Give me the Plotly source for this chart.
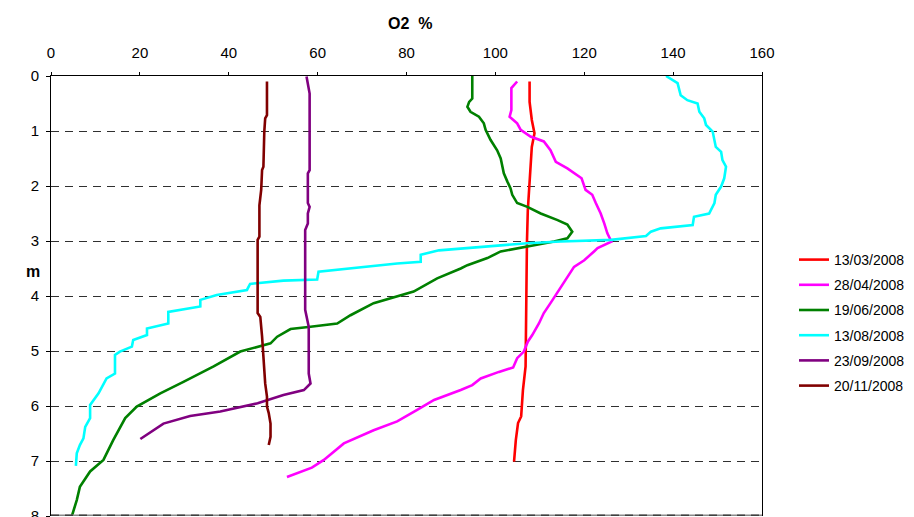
import plotly.graph_objects as go

# ---- data ----
names = ["13/03/2008", "28/04/2008", "19/06/2008", "13/08/2008", "23/09/2008", "20/11/2008"]
colors = ["#FF0000", "#FF00FF", "#008000", "#00FFFF", "#800080", "#800000"]

d_mar = [0.10, 0.47, 0.80, 1.04, 1.29, 1.71, 2.00, 2.44, 3.04, 3.70, 4.74, 5.28, 5.71, 6.19, 6.31, 6.62, 7.01]
o_mar = [107.7, 107.7, 108.2, 108.8, 108.2, 107.9, 107.6, 107.3, 107.1, 107.0, 107.0, 106.8, 106.2, 105.8, 105.1, 104.6, 104.2]

d_apr = [0.10, 0.22, 0.62, 0.74, 0.86, 0.98, 1.10, 1.19, 1.35, 1.56, 1.68, 1.86, 2.07, 2.16, 2.31, 2.50, 2.68, 2.86, 3.01,
         3.13, 3.19, 3.35, 3.47, 3.71, 3.95, 4.13, 4.31, 4.50, 4.71, 4.83, 5.01, 5.13, 5.30, 5.38, 5.50, 5.62, 5.71, 5.84,
         5.89, 6.07, 6.28, 6.44, 6.68, 6.98, 7.12, 7.29]
o_apr = [104.9, 103.6, 103.6, 103.2, 104.9, 105.7, 107.9, 110.9, 112.4, 113.6, 116.2, 119.4, 120.3, 121.8, 122.6, 123.7,
         124.5, 125.2, 126.1, 123.0, 122.2, 120.0, 117.7, 115.8, 114.0, 112.4, 110.9, 109.8, 108.3, 107.3, 106.4, 104.9,
         104.0, 100.8, 96.7, 94.8, 92.2, 87.7, 86.2, 82.4, 77.9, 72.6, 65.9, 61.4, 58.7, 53.1]

d_jun = [0.0, 0.41, 0.47, 0.56, 0.65, 0.74, 0.86, 0.98, 1.16, 1.35, 1.50, 1.77, 1.92, 2.04, 2.16, 2.31, 2.38, 2.50, 2.62,
         2.70, 2.83, 2.95, 3.01, 3.10, 3.19, 3.31, 3.44, 3.50, 3.68, 3.92, 4.01, 4.13, 4.35, 4.50, 4.56, 4.60, 4.74, 4.86,
         5.01, 5.28, 5.56, 5.77, 6.01, 6.22, 6.62, 6.98, 7.19, 7.47, 7.71, 8.0]
o_jun = [94.8, 94.8, 94.1, 93.7, 94.4, 96.3, 97.4, 97.8, 98.9, 100.4, 101.2, 101.9, 102.7, 103.4, 103.8, 104.9, 107.2,
         110.2, 114.0, 116.2, 117.3, 116.2, 113.2, 107.2, 101.2, 98.2, 93.7, 92.2, 86.9, 81.6, 77.9, 72.6, 67.4, 64.4,
         58.4, 53.9, 50.9, 49.4, 42.6, 36.6, 29.8, 24.6, 19.3, 16.7, 14.0, 11.8, 8.8, 6.5, 5.8, 4.7]

d_aug = [0.0, 0.13, 0.35, 0.44, 0.50, 0.65, 0.77, 0.89, 1.01, 1.29, 1.38, 1.53, 1.65, 1.86, 2.01, 2.16, 2.31, 2.50, 2.56,
         2.71, 2.77, 2.83, 2.91, 2.98, 3.01, 3.04, 3.08, 3.17, 3.25, 3.38, 3.41, 3.50, 3.56, 3.70, 3.72, 3.78, 3.89, 3.98,
         4.07, 4.19, 4.25, 4.29, 4.50, 4.59, 4.71, 4.80, 4.92, 5.01, 5.07, 5.41, 5.50, 5.77, 5.98, 6.22, 6.38, 6.59, 6.71,
         6.86, 7.09]
o_aug = [138.4, 141.0, 141.7, 143.2, 145.5, 145.9, 147.0, 147.4, 148.9, 149.6, 150.8, 151.1, 151.9, 151.5, 150.8, 149.6,
         149.3, 148.1, 144.7, 144.4, 137.2, 135.0, 133.9, 126.0, 114.7, 107.2, 101.2, 87.3, 83.2, 83.2, 77.9, 67.4, 60.2,
         59.9, 52.3, 44.8, 44.1, 37.3, 33.6, 33.6, 29.1, 26.4, 26.4, 21.6, 21.6, 18.5, 18.2, 15.5, 14.4, 14.4, 12.5, 10.7,
         8.8, 8.8, 7.7, 7.3, 6.5, 5.8, 5.6]

d_sep = [0.01, 0.25, 0.32, 1.71, 1.77, 2.31, 2.38, 2.50, 2.68, 2.80, 4.25, 4.56, 5.41, 5.59, 5.71, 5.80, 5.95, 6.10, 6.18,
         6.32, 6.44, 6.60]
o_sep = [57.5, 58.0, 58.2, 58.2, 57.8, 57.8, 58.2, 57.8, 57.8, 57.2, 57.2, 58.0, 58.0, 58.4, 56.9, 52.3, 46.5, 38.1, 31.3,
         25.3, 23.1, 20.1]

d_nov = [0.10, 0.71, 0.77, 1.01, 1.65, 1.71, 2.07, 2.35, 2.92, 2.98, 4.31, 4.38, 4.74, 5.16, 5.59, 5.83, 6.01, 6.13, 6.32,
         6.56, 6.71]
o_nov = [48.6, 48.6, 48.2, 48.0, 47.8, 47.5, 47.3, 46.9, 46.9, 46.5, 46.5, 47.1, 47.5, 47.8, 48.2, 48.6, 48.6, 49.0, 49.4,
         49.4, 49.0]

x_ticks = [0, 20, 40, 60, 80, 100, 120, 140, 160]
y_ticks = [0, 1, 2, 3, 4, 5, 6, 7, 8]

series = [(o_mar, d_mar), (o_apr, d_apr), (o_jun, d_jun), (o_aug, d_aug), (o_sep, d_sep), (o_nov, d_nov)]

FONT = "Arial, Liberation Sans, sans-serif"
FS = 15
LFS = 14

# page body has an 8px margin; figure sized so that it fills the 914x517 window
OFF = 8
FIG_W, FIG_H = 914 - OFF, 517 - OFF
PL, PR, PT, PB = 51 - OFF, 762 - OFF, 76 - OFF, 516 - OFF  # plot area in figure px

fig = go.Figure()
for (xv, yv), nm, col in zip(series, names, colors):
    fig.add_trace(go.Scatter(x=xv, y=yv, mode="lines", name=nm, legendgroup=nm,
                             line=dict(color=col, width=2.6)))

def px2paper(px, py):
    return (px - OFF - PL) / (PR - PL), (PB - (py - OFF)) / (PB - PT)

ax, ay = px2paper(410, 23)
mx, my = px2paper(33, 271)
lx, ly = px2paper(794, 323)

fig.update_layout(
    width=FIG_W, height=FIG_H,
    margin=dict(l=PL, r=FIG_W - PR, t=PT, b=FIG_H - PB, autoexpand=False),
    paper_bgcolor="white", plot_bgcolor="white",
    font=dict(family=FONT, size=FS, color="black"),
    showlegend=True,
    legend=dict(x=lx, xanchor="left", y=ly, yanchor="middle",
                font=dict(family=FONT, size=LFS, color="black"),
                traceorder="grouped", tracegroupgap=4,
                bgcolor="rgba(0,0,0,0)"),
    xaxis=dict(range=[0, 160], side="top", tickvals=x_ticks, ticks="outside", ticklen=3,
               tickcolor="black", showline=True, linecolor="black", linewidth=1,
               showgrid=False, zeroline=False, automargin=False, ticklabelstandoff=8,
               tickfont=dict(family=FONT, size=FS)),
    yaxis=dict(range=[8, 0], tickvals=y_ticks, ticks="outside", ticklen=4,
               tickcolor="black", showline=True, mirror=True, linecolor="black", linewidth=1,
               showgrid=True, gridcolor="#303030", gridwidth=1, griddash="8px,6px",
               zeroline=False, automargin=False, ticklabelstandoff=4,
               ticklabeloverflow="allow",
               tickfont=dict(family=FONT, size=FS)),
    annotations=[
        dict(text="<b>O2\u00a0\u00a0%</b>", x=ax, y=ay, xref="paper", yref="paper", showarrow=False,
             xanchor="center", yanchor="middle", font=dict(family=FONT, size=16)),
        dict(text="<b>m</b>", x=mx, y=my, xref="paper", yref="paper", showarrow=False,
             xanchor="center", yanchor="middle", font=dict(family=FONT, size=16)),
    ],
    shapes=[
        dict(type="line", xref="x", yref="y", x0=0, x1=160, y0=8, y1=8, layer="above",
             line=dict(color="#8a8a8a", width=3)),
        dict(type="line", xref="x", yref="y", x0=0, x1=160, y0=8, y1=8, layer="above",
             line=dict(color="#404040", width=3, dash="8px,6px")),
    ],
)

fig.write_html("out.html")
